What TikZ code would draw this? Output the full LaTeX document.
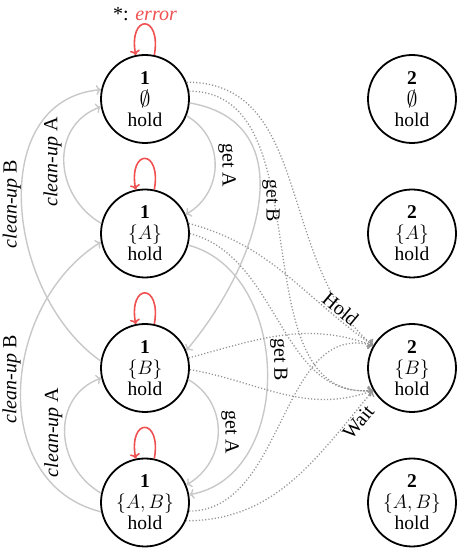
\RequirePackage{fix-cm}
\documentclass[tikz,border=0pt]{standalone}
\usepackage{fontspec}
\setmainfont{Liberation Serif}
\usetikzlibrary{arrows.meta}
\definecolor{lgray}{RGB}{200,200,200}
\definecolor{dgray}{RGB}{150,150,150}
\definecolor{errred}{RGB}{240,80,80}
\newcommand{\myempty}{\raisebox{-1pt}{\scalebox{1.12}{$\emptyset$}}}
\begin{document}
\begin{tikzpicture}[x=1pt,y=1pt,
  st/.style={circle, draw, line width=1.8pt, minimum size=88pt, inner sep=0pt, align=center, font=\fontsize{19.5}{21}\selectfont},
  gedge/.style={draw=lgray, line width=1.4pt, -{To[length=5pt,width=10pt]}},
  dedge/.style={draw=dgray, line width=1.3pt, dash pattern=on 1.2pt off 2pt, -{To[length=5pt,width=10pt]}},
  loopedge/.style={draw=errred, line width=1.6pt, -{To[length=5pt,width=10pt]}},
  lab/.style={font=\fontsize{20}{22}\selectfont, inner sep=1.5pt},
  downlab/.style={lab, rotate=-90, anchor=south, inner sep=2.5pt},
  uplab/.style={lab, rotate=90, anchor=south},
  edgelab/.style={lab, rotate=90, anchor=south, inner sep=0pt}
]
\useasboundingbox (0,0) rectangle (457,548);

\node[st] (L1) at (145,449) {\textbf{1}\\\myempty\\hold};
\node[st] (L2) at (145,314.5) {\textbf{1}\\$\{A\}$\\hold};
\node[st] (L3) at (145,180) {\textbf{1}\\$\{B\}$\\hold};
\node[st] (L4) at (145,45.5) {\textbf{1}\\$\{A,B\}$\\hold};
\node[st] (R1) at (412,449) {\textbf{2}\\\myempty\\hold};
\node[st] (R2) at (412,314.5) {\textbf{2}\\$\{A\}$\\hold};
\node[st] (R3) at (412,180) {\textbf{2}\\$\{B\}$\\hold};
\node[st] (R4) at (412,45.5) {\textbf{2}\\$\{A,B\}$\\hold};

% error loops
\draw[loopedge] (L1.78) .. controls +(80:42) and +(100:42) .. (L1.102)
  node[midway, above, inner sep=2pt, font=\fontsize{20}{22}\selectfont] {*: \textcolor{errred}{\textit{error}}};
\draw[loopedge] (L2.78) .. controls +(80:42) and +(100:42) .. (L2.102);
\draw[loopedge] (L3.78) .. controls +(80:42) and +(100:42) .. (L3.102);
\draw[loopedge] (L4.78) .. controls +(80:42) and +(100:42) .. (L4.102);

% get edges
\draw[gedge] (L1.-22) to[out=-30,in=30,looseness=1.15] node[downlab]{get A} (L2.25);
\draw[gedge] (L3.-15) to[out=-30,in=30,looseness=1.15] node[downlab]{get A} (L4.23);
\draw[gedge] (L1.-5) to[out=-10,in=50,looseness=1.2] node[downlab]{get B} (L3.23);
\draw[gedge] (L2.-15) to[out=-15,in=10,looseness=1.1] node[downlab,pos=0.46]{get B} (L4.10);

% clean-up edges
\draw[gedge] (L2.167) to[out=150,in=200,looseness=1.2] node[uplab]{\textit{clean-up} A} (L1.190);
\draw[gedge] (L4.168) to[out=150,in=200,looseness=1.2] node[uplab]{\textit{clean-up} A} (L3.193);
\draw[gedge] (L3.171) to[out=145,in=185,looseness=1.1] node[edgelab,pos=0.5]{\textit{clean-up} B} (L1.168);
\draw[gedge] (L4.192) to[out=166,in=212,looseness=1.12] node[edgelab,pos=0.53]{\textit{clean-up} B} (L2.191);

% dotted hold / wait edges
\draw[dedge] (L1.22) to[out=0,in=140] (R3.150);
\draw[dedge] (L1.10) to[out=0,in=185] (R3.210);
\draw[dedge] (L2.13) to[out=-15,in=145] node[lab,sloped,above,pos=0.8]{Hold} (R3.150);
\draw[dedge] (L2.0) to[out=-15,in=185] (R3.210);
\draw[dedge] (L3.13) to[out=15,in=160] (R3.150);
\draw[dedge] (L3.-2) to[out=-10,in=200] (R3.210);
\draw[dedge] (L4.-11) to[out=0,in=165] (R3.150);
\draw[dedge] (L4.-24) to[out=0,in=230] node[lab,sloped,below,pos=0.87]{Wait} (R3.210);
\end{tikzpicture}
\end{document}
